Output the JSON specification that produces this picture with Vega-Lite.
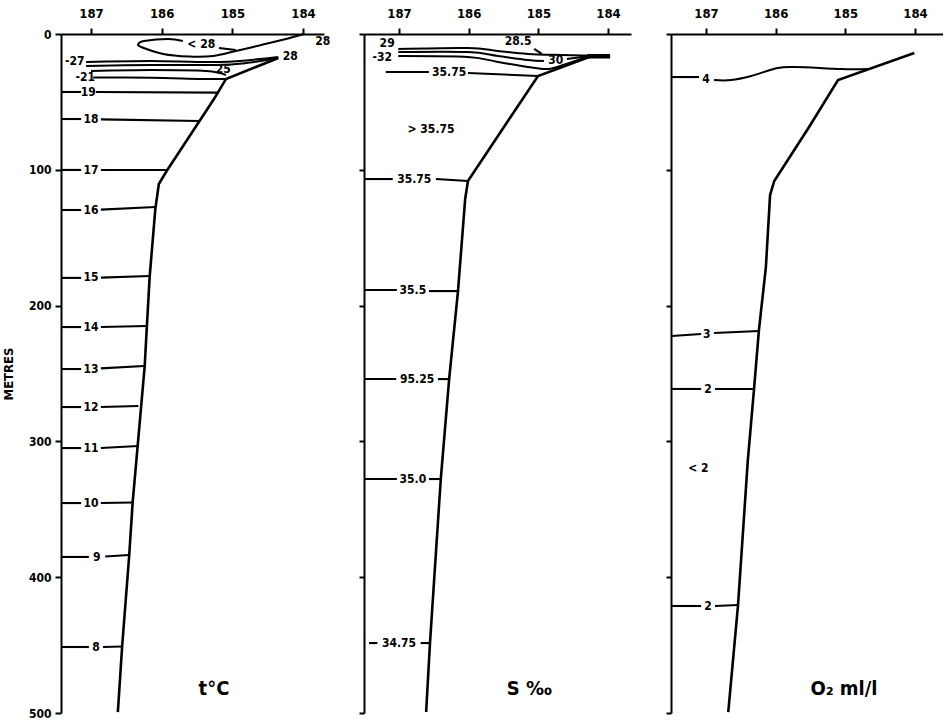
{
  "$schema": "https://vega.github.io/schema/vega-lite/v6.json",
  "background": "white",
  "padding": {"left": 2, "top": 7, "right": 0, "bottom": 0},
  "bounds": "flush",
  "spacing": 40,
  "datasets": {
    "lines": [
      {"p":1,"id":"s1","k":"slope","o":0,"lon":184.35,"d":17.7},
      {"p":1,"id":"s1","k":"slope","o":1,"lon":185.09,"d":33.1},
      {"p":1,"id":"s1","k":"slope","o":2,"lon":185.26,"d":47.9},
      {"p":1,"id":"s1","k":"slope","o":3,"lon":185.92,"d":100.1},
      {"p":1,"id":"s1","k":"slope","o":4,"lon":186.04,"d":110.5},
      {"p":1,"id":"s1","k":"slope","o":5,"lon":186.09,"d":128.9},
      {"p":1,"id":"s1","k":"slope","o":6,"lon":186.17,"d":178.9},
      {"p":1,"id":"s1","k":"slope","o":7,"lon":186.21,"d":215.8},
      {"p":1,"id":"s1","k":"slope","o":8,"lon":186.24,"d":244.5},
      {"p":1,"id":"s1","k":"slope","o":9,"lon":186.34,"d":303.4},
      {"p":1,"id":"s1","k":"slope","o":10,"lon":186.41,"d":344.6},
      {"p":1,"id":"s1","k":"slope","o":11,"lon":186.46,"d":384.4},
      {"p":1,"id":"s1","k":"slope","o":12,"lon":186.56,"d":451.4},
      {"p":1,"id":"s1","k":"slope","o":13,"lon":186.62,"d":499.3},

      {"p":1,"id":"t19L","k":"seg","o":0,"lon":187.42,"d":42.7},
      {"p":1,"id":"t19L","k":"seg","o":1,"lon":187.14,"d":42.7},
      {"p":1,"id":"t19R","k":"seg","o":0,"lon":186.93,"d":42.7},
      {"p":1,"id":"t19R","k":"seg","o":1,"lon":185.19,"d":43.2},
      {"p":1,"id":"t18L","k":"seg","o":0,"lon":187.42,"d":62.6},
      {"p":1,"id":"t18L","k":"seg","o":1,"lon":187.14,"d":62.6},
      {"p":1,"id":"t18R","k":"seg","o":0,"lon":186.86,"d":62.9},
      {"p":1,"id":"t18R","k":"seg","o":1,"lon":185.47,"d":64.1},
      {"p":1,"id":"t17L","k":"seg","o":0,"lon":187.42,"d":100.1},
      {"p":1,"id":"t17L","k":"seg","o":1,"lon":187.14,"d":100.1},
      {"p":1,"id":"t17R","k":"seg","o":0,"lon":186.86,"d":100.1},
      {"p":1,"id":"t17R","k":"seg","o":1,"lon":185.92,"d":100.1},
      {"p":1,"id":"t16L","k":"seg","o":0,"lon":187.42,"d":129.6},
      {"p":1,"id":"t16L","k":"seg","o":1,"lon":187.14,"d":129.6},
      {"p":1,"id":"t16R","k":"seg","o":0,"lon":186.86,"d":129.3},
      {"p":1,"id":"t16R","k":"seg","o":1,"lon":186.09,"d":127.4},
      {"p":1,"id":"t15L","k":"seg","o":0,"lon":187.42,"d":179.6},
      {"p":1,"id":"t15L","k":"seg","o":1,"lon":187.14,"d":179.6},
      {"p":1,"id":"t15R","k":"seg","o":0,"lon":186.86,"d":179.4},
      {"p":1,"id":"t15R","k":"seg","o":1,"lon":186.17,"d":178.2},
      {"p":1,"id":"t14L","k":"seg","o":0,"lon":187.42,"d":215.8},
      {"p":1,"id":"t14L","k":"seg","o":1,"lon":187.14,"d":215.8},
      {"p":1,"id":"t14R","k":"seg","o":0,"lon":186.86,"d":215.8},
      {"p":1,"id":"t14R","k":"seg","o":1,"lon":186.21,"d":215.0},
      {"p":1,"id":"t13L","k":"seg","o":0,"lon":187.42,"d":246.7},
      {"p":1,"id":"t13L","k":"seg","o":1,"lon":187.14,"d":246.7},
      {"p":1,"id":"t13R","k":"seg","o":0,"lon":186.86,"d":246.2},
      {"p":1,"id":"t13R","k":"seg","o":1,"lon":186.25,"d":244.5},
      {"p":1,"id":"t12L","k":"seg","o":0,"lon":187.42,"d":274.7},
      {"p":1,"id":"t12L","k":"seg","o":1,"lon":187.14,"d":274.7},
      {"p":1,"id":"t12R","k":"seg","o":0,"lon":186.86,"d":274.7},
      {"p":1,"id":"t12R","k":"seg","o":1,"lon":186.33,"d":273.9},
      {"p":1,"id":"t11L","k":"seg","o":0,"lon":187.42,"d":304.9},
      {"p":1,"id":"t11L","k":"seg","o":1,"lon":187.14,"d":304.9},
      {"p":1,"id":"t11R","k":"seg","o":0,"lon":186.86,"d":304.9},
      {"p":1,"id":"t11R","k":"seg","o":1,"lon":186.33,"d":303.4},
      {"p":1,"id":"t10L","k":"seg","o":0,"lon":187.42,"d":345.4},
      {"p":1,"id":"t10L","k":"seg","o":1,"lon":187.14,"d":345.4},
      {"p":1,"id":"t10R","k":"seg","o":0,"lon":186.86,"d":345.4},
      {"p":1,"id":"t10R","k":"seg","o":1,"lon":186.41,"d":345.0},
      {"p":1,"id":"t9L","k":"seg","o":0,"lon":187.42,"d":385.1},
      {"p":1,"id":"t9L","k":"seg","o":1,"lon":187.03,"d":385.1},
      {"p":1,"id":"t9R","k":"seg","o":0,"lon":186.80,"d":384.8},
      {"p":1,"id":"t9R","k":"seg","o":1,"lon":186.46,"d":383.7},
      {"p":1,"id":"t8L","k":"seg","o":0,"lon":187.42,"d":451.4},
      {"p":1,"id":"t8L","k":"seg","o":1,"lon":187.03,"d":451.4},
      {"p":1,"id":"t8R","k":"seg","o":0,"lon":186.83,"d":451.4},
      {"p":1,"id":"t8R","k":"seg","o":1,"lon":186.56,"d":451.0},

      {"p":1,"id":"A","k":"curve","o":0,"lon":187.07,"d":20.6},
      {"p":1,"id":"A","k":"curve","o":1,"lon":186.15,"d":19.9},
      {"p":1,"id":"A","k":"curve","o":2,"lon":185.16,"d":20.6},
      {"p":1,"id":"A","k":"curve","o":3,"lon":184.35,"d":16.9},
      {"p":1,"id":"B","k":"curve","o":0,"lon":187.07,"d":23.6},
      {"p":1,"id":"B","k":"curve","o":1,"lon":186.15,"d":22.8},
      {"p":1,"id":"B","k":"curve","o":2,"lon":185.23,"d":22.8},
      {"p":1,"id":"B","k":"curve","o":3,"lon":184.81,"d":21.4},
      {"p":1,"id":"B","k":"curve","o":4,"lon":184.35,"d":17.7},
      {"p":1,"id":"C","k":"curve","o":0,"lon":187.0,"d":27.2},
      {"p":1,"id":"C","k":"curve","o":1,"lon":186.15,"d":26.5},
      {"p":1,"id":"C","k":"curve","o":2,"lon":185.37,"d":27.2},
      {"p":1,"id":"C","k":"curve","o":3,"lon":185.09,"d":30.2},
      {"p":1,"id":"D","k":"curve","o":0,"lon":186.97,"d":32.0},
      {"p":1,"id":"D","k":"curve","o":1,"lon":186.15,"d":32.2},
      {"p":1,"id":"D","k":"curve","o":2,"lon":185.44,"d":33.1},
      {"p":1,"id":"D","k":"curve","o":3,"lon":185.09,"d":33.1},
      {"p":1,"id":"loop","k":"curve","o":0,"lon":183.99,"d":0},
      {"p":1,"id":"loop","k":"curve","o":1,"lon":184.24,"d":3.7},
      {"p":1,"id":"loop","k":"curve","o":2,"lon":184.59,"d":8.1},
      {"p":1,"id":"loop","k":"curve","o":3,"lon":184.95,"d":12.5},
      {"p":1,"id":"loop","k":"curve","o":4,"lon":185.27,"d":16.2},
      {"p":1,"id":"loop","k":"curve","o":5,"lon":185.61,"d":16.6},
      {"p":1,"id":"loop","k":"curve","o":6,"lon":185.98,"d":14.7},
      {"p":1,"id":"loop","k":"curve","o":7,"lon":186.29,"d":9.6},
      {"p":1,"id":"loop","k":"curve","o":8,"lon":186.33,"d":7.4},
      {"p":1,"id":"loop","k":"curve","o":9,"lon":186.25,"d":5.2},
      {"p":1,"id":"loop","k":"curve","o":10,"lon":185.91,"d":3.7},
      {"p":1,"id":"loop","k":"curve","o":11,"lon":185.70,"d":5.2},
      {"p":1,"id":"U","k":"seg","o":0,"lon":185.19,"d":10.3},
      {"p":1,"id":"U","k":"seg","o":1,"lon":184.95,"d":11.8},

      {"p":2,"id":"s2","k":"slope","o":0,"lon":184.27,"d":16.9},
      {"p":2,"id":"s2","k":"slope","o":1,"lon":185.005,"d":30.9},
      {"p":2,"id":"s2","k":"slope","o":2,"lon":186.01,"d":108.2},
      {"p":2,"id":"s2","k":"slope","o":3,"lon":186.05,"d":121.5},
      {"p":2,"id":"s2","k":"slope","o":4,"lon":186.153,"d":189.3},
      {"p":2,"id":"s2","k":"slope","o":5,"lon":186.28,"d":254.1},
      {"p":2,"id":"s2","k":"slope","o":6,"lon":186.40,"d":327.7},
      {"p":2,"id":"s2","k":"slope","o":7,"lon":186.555,"d":448.5},
      {"p":2,"id":"s2","k":"slope","o":8,"lon":186.61,"d":499.3},
      {"p":2,"id":"tip","k":"tip","o":0,"lon":184.30,"d":16.4},
      {"p":2,"id":"tip","k":"tip","o":1,"lon":183.97,"d":16.4},
      {"p":2,"id":"L1","k":"curve","o":0,"lon":187.01,"d":11.0},
      {"p":2,"id":"L1","k":"curve","o":1,"lon":186.01,"d":10.3},
      {"p":2,"id":"L1","k":"curve","o":2,"lon":185.58,"d":12.5},
      {"p":2,"id":"L1","k":"curve","o":3,"lon":185.15,"d":14.7},
      {"p":2,"id":"L1","k":"curve","o":4,"lon":184.67,"d":15.5},
      {"p":2,"id":"L1","k":"curve","o":5,"lon":183.97,"d":16.2},
      {"p":2,"id":"L2","k":"curve","o":0,"lon":187.01,"d":13.3},
      {"p":2,"id":"L2","k":"curve","o":1,"lon":186.01,"d":13.3},
      {"p":2,"id":"L2","k":"curve","o":2,"lon":185.58,"d":16.2},
      {"p":2,"id":"L2","k":"curve","o":3,"lon":185.15,"d":19.1},
      {"p":2,"id":"L2","k":"curve","o":4,"lon":184.92,"d":19.9},
      {"p":2,"id":"L2b","k":"seg","o":0,"lon":184.59,"d":18.4},
      {"p":2,"id":"L2b","k":"seg","o":1,"lon":184.27,"d":16.2},
      {"p":2,"id":"L3","k":"curve","o":0,"lon":187.01,"d":16.2},
      {"p":2,"id":"L3","k":"curve","o":1,"lon":186.01,"d":16.9},
      {"p":2,"id":"L3","k":"curve","o":2,"lon":185.58,"d":20.6},
      {"p":2,"id":"L3","k":"curve","o":3,"lon":185.15,"d":24.3},
      {"p":2,"id":"L3","k":"curve","o":4,"lon":184.86,"d":25.8},
      {"p":2,"id":"L3","k":"curve","o":5,"lon":184.60,"d":22.1},
      {"p":2,"id":"L3","k":"curve","o":6,"lon":184.27,"d":16.2},
      {"p":2,"id":"h285","k":"seg","o":0,"lon":185.06,"d":11.0},
      {"p":2,"id":"h285","k":"seg","o":1,"lon":184.95,"d":14.7},
      {"p":2,"id":"c1L","k":"seg","o":0,"lon":187.19,"d":28.0},
      {"p":2,"id":"c1L","k":"seg","o":1,"lon":186.57,"d":28.0},
      {"p":2,"id":"c1R","k":"seg","o":0,"lon":186.01,"d":28.7},
      {"p":2,"id":"c1R","k":"seg","o":1,"lon":185.005,"d":30.9},
      {"p":2,"id":"c2L","k":"seg","o":0,"lon":187.49,"d":106.8},
      {"p":2,"id":"c2L","k":"seg","o":1,"lon":187.09,"d":106.8},
      {"p":2,"id":"c2R","k":"seg","o":0,"lon":186.47,"d":106.8},
      {"p":2,"id":"c2R","k":"seg","o":1,"lon":186.01,"d":108.2},
      {"p":2,"id":"c3L","k":"seg","o":0,"lon":187.49,"d":188.5},
      {"p":2,"id":"c3L","k":"seg","o":1,"lon":187.03,"d":188.5},
      {"p":2,"id":"c3R","k":"seg","o":0,"lon":186.57,"d":189.3},
      {"p":2,"id":"c3R","k":"seg","o":1,"lon":186.153,"d":189.3},
      {"p":2,"id":"c4L","k":"seg","o":0,"lon":187.49,"d":254.1},
      {"p":2,"id":"c4L","k":"seg","o":1,"lon":187.04,"d":254.1},
      {"p":2,"id":"c4R","k":"seg","o":0,"lon":186.44,"d":254.1},
      {"p":2,"id":"c4R","k":"seg","o":1,"lon":186.28,"d":254.1},
      {"p":2,"id":"c5L","k":"seg","o":0,"lon":187.49,"d":327.7},
      {"p":2,"id":"c5L","k":"seg","o":1,"lon":187.03,"d":327.7},
      {"p":2,"id":"c5R","k":"seg","o":0,"lon":186.57,"d":327.7},
      {"p":2,"id":"c5R","k":"seg","o":1,"lon":186.40,"d":327.7},
      {"p":2,"id":"c6L","k":"seg","o":0,"lon":187.43,"d":448.5},
      {"p":2,"id":"c6L","k":"seg","o":1,"lon":187.31,"d":448.5},
      {"p":2,"id":"c6R","k":"seg","o":0,"lon":186.69,"d":448.5},
      {"p":2,"id":"c6R","k":"seg","o":1,"lon":186.555,"d":448.5},

      {"p":3,"id":"s3","k":"slope","o":0,"lon":184.01,"d":14.0},
      {"p":3,"id":"s3","k":"slope","o":1,"lon":185.105,"d":33.9},
      {"p":3,"id":"s3","k":"slope","o":2,"lon":185.52,"d":68.5},
      {"p":3,"id":"s3","k":"slope","o":3,"lon":186.02,"d":108.2},
      {"p":3,"id":"s3","k":"slope","o":4,"lon":186.08,"d":118.6},
      {"p":3,"id":"s3","k":"slope","o":5,"lon":186.14,"d":171.6},
      {"p":3,"id":"s3","k":"slope","o":6,"lon":186.24,"d":218.0},
      {"p":3,"id":"s3","k":"slope","o":7,"lon":186.31,"d":261.4},
      {"p":3,"id":"s3","k":"slope","o":8,"lon":186.40,"d":314.4},
      {"p":3,"id":"s3","k":"slope","o":9,"lon":186.54,"d":420.5},
      {"p":3,"id":"s3","k":"slope","o":10,"lon":186.68,"d":499.3},
      {"p":3,"id":"o4L","k":"seg","o":0,"lon":187.49,"d":31.7},
      {"p":3,"id":"o4L","k":"seg","o":1,"lon":187.10,"d":31.7},
      {"p":3,"id":"o4R","k":"curve","o":0,"lon":186.885,"d":33.9},
      {"p":3,"id":"o4R","k":"curve","o":1,"lon":186.64,"d":33.9},
      {"p":3,"id":"o4R","k":"curve","o":2,"lon":186.35,"d":30.9},
      {"p":3,"id":"o4R","k":"curve","o":3,"lon":185.97,"d":25.0},
      {"p":3,"id":"o4R","k":"curve","o":4,"lon":185.71,"d":24.3},
      {"p":3,"id":"o4R","k":"curve","o":5,"lon":185.06,"d":25.8},
      {"p":3,"id":"o4R","k":"curve","o":6,"lon":184.67,"d":25.8},
      {"p":3,"id":"o3L","k":"seg","o":0,"lon":187.49,"d":222.4},
      {"p":3,"id":"o3L","k":"seg","o":1,"lon":187.07,"d":220.9},
      {"p":3,"id":"o3R","k":"seg","o":0,"lon":186.885,"d":220.2},
      {"p":3,"id":"o3R","k":"seg","o":1,"lon":186.24,"d":218.7},
      {"p":3,"id":"o2L","k":"seg","o":0,"lon":187.49,"d":261.4},
      {"p":3,"id":"o2L","k":"seg","o":1,"lon":187.07,"d":261.4},
      {"p":3,"id":"o2R","k":"seg","o":0,"lon":186.87,"d":261.4},
      {"p":3,"id":"o2R","k":"seg","o":1,"lon":186.31,"d":261.4},
      {"p":3,"id":"o2bL","k":"seg","o":0,"lon":187.49,"d":421.2},
      {"p":3,"id":"o2bL","k":"seg","o":1,"lon":187.07,"d":421.2},
      {"p":3,"id":"o2bR","k":"seg","o":0,"lon":186.87,"d":421.2},
      {"p":3,"id":"o2bR","k":"seg","o":1,"lon":186.54,"d":420.5}
    ],
    "labels": [
      {"p":1,"k":"lab","t":"19","lon":187.04,"d":42.7},
      {"p":1,"k":"lab","t":"18","lon":187.0,"d":62.6},
      {"p":1,"k":"lab","t":"17","lon":187.0,"d":100.1},
      {"p":1,"k":"lab","t":"16","lon":187.0,"d":129.3},
      {"p":1,"k":"lab","t":"15","lon":187.0,"d":179.3},
      {"p":1,"k":"lab","t":"14","lon":187.0,"d":215.8},
      {"p":1,"k":"lab","t":"13","lon":187.0,"d":246.5},
      {"p":1,"k":"lab","t":"12","lon":187.0,"d":274.7},
      {"p":1,"k":"lab","t":"11","lon":187.0,"d":304.9},
      {"p":1,"k":"lab","t":"10","lon":187.0,"d":345.4},
      {"p":1,"k":"lab","t":"9","lon":186.92,"d":385.1},
      {"p":1,"k":"lab","t":"8","lon":186.93,"d":451.4},
      {"p":1,"k":"lab","t":"-27","lon":187.23,"d":19.6},
      {"p":1,"k":"lab","t":"-21","lon":187.08,"d":31.8},
      {"p":1,"k":"lab","t":"25","lon":185.13,"d":25.8},
      {"p":1,"k":"lab","t":"< 28","lon":185.44,"d":7.4},
      {"p":1,"k":"lab","t":"28","lon":183.72,"d":5.2},
      {"p":1,"k":"lab","t":"28","lon":184.18,"d":16.2},
      {"p":1,"k":"title","t":"t°C","lon":185.26,"d":482.3},

      {"p":2,"k":"lab","t":"29","lon":187.17,"d":6.6},
      {"p":2,"k":"lab","t":"-32","lon":187.24,"d":16.9},
      {"p":2,"k":"lab","t":"30","lon":184.75,"d":19.1},
      {"p":2,"k":"lab","t":"28.5","lon":185.29,"d":5.2},
      {"p":2,"k":"lab","t":"35.75","lon":186.28,"d":28.0},
      {"p":2,"k":"lab","t":"> 35.75","lon":186.54,"d":70.0},
      {"p":2,"k":"lab","t":"35.75","lon":186.78,"d":106.8},
      {"p":2,"k":"lab","t":"35.5","lon":186.80,"d":188.5},
      {"p":2,"k":"lab","t":"95.25","lon":186.74,"d":254.1},
      {"p":2,"k":"lab","t":"35.0","lon":186.80,"d":327.7},
      {"p":2,"k":"lab","t":"34.75","lon":187.0,"d":448.5},
      {"p":2,"k":"title","t":"S ‰","lon":185.13,"d":482.3},

      {"p":3,"k":"lab","t":"4","lon":187.0,"d":33.1},
      {"p":3,"k":"lab","t":"3","lon":186.99,"d":220.9},
      {"p":3,"k":"lab","t":"2","lon":186.97,"d":261.4},
      {"p":3,"k":"lab","t":"< 2","lon":187.11,"d":319.6},
      {"p":3,"k":"lab","t":"2","lon":186.97,"d":421.2},
      {"p":3,"k":"title","t":"O₂ ml/l","lon":185.02,"d":482.3}
    ]
  },
  "hconcat": [
    {
      "width": 263, "height": 679,
      "encoding": {
        "x": {"field": "lon", "type": "quantitative", "scale": {"domain": [183.703, 187.4245], "reverse": true, "nice": false, "zero": false}, "axis": {"orient": "top", "values": [187,186,185,184], "format": "d", "title": null}},
        "y": {"field": "d", "type": "quantitative", "scale": {"domain": [0, 500], "reverse": true, "nice": false, "zero": false}, "axis": {"values": [0,100,200,300,400,500], "title": "METRES", "titleFontSize": 13, "titleFontWeight": "bold", "titlePadding": 13, "labelFontSize": 12, "tickSize": 6, "labelPadding": 4}}
      },
      "layer": [
        {"data": {"name": "lines"}, "transform": [{"filter": "datum.p == 1 && datum.k == 'slope'"}], "mark": {"type": "line", "color": "black", "strokeWidth": 2.6}, "encoding": {"detail": {"field": "id"}, "order": {"field": "o"}}},
        {"data": {"name": "lines"}, "transform": [{"filter": "datum.p == 1 && datum.k == 'seg'"}], "mark": {"type": "line", "color": "black", "strokeWidth": 2.1}, "encoding": {"detail": {"field": "id"}, "order": {"field": "o"}}},
        {"data": {"name": "lines"}, "transform": [{"filter": "datum.p == 1 && datum.k == 'curve'"}], "mark": {"type": "line", "color": "black", "strokeWidth": 2.0, "interpolate": "cardinal"}, "encoding": {"detail": {"field": "id"}, "order": {"field": "o"}}},
        {"data": {"name": "labels"}, "transform": [{"filter": "datum.p == 1 && datum.k == 'lab'"}], "mark": {"type": "text", "color": "black", "fontSize": 12, "fontWeight": "bold", "font": "DejaVu Sans Condensed, DejaVu Sans"}, "encoding": {"text": {"field": "t"}}},
        {"data": {"name": "labels"}, "transform": [{"filter": "datum.p == 1 && datum.k == 'title'"}], "mark": {"type": "text", "color": "black", "fontSize": 20, "fontWeight": "bold", "font": "DejaVu Sans Condensed, DejaVu Sans"}, "encoding": {"text": {"field": "t"}}}
      ]
    },
    {
      "width": 267, "height": 679,
      "encoding": {
        "x": {"field": "lon", "type": "quantitative", "scale": {"domain": [183.67, 187.502], "reverse": true, "nice": false, "zero": false}, "axis": {"orient": "top", "values": [187,186,185,184], "format": "d", "title": null}},
        "y": {"field": "d", "type": "quantitative", "scale": {"domain": [0, 500], "reverse": true, "nice": false, "zero": false}, "axis": {"values": [0,100,200,300,400,500], "title": null, "labels": false, "tickSize": 5}}
      },
      "layer": [
        {"data": {"name": "lines"}, "transform": [{"filter": "datum.p == 2 && datum.k == 'slope'"}], "mark": {"type": "line", "color": "black", "strokeWidth": 2.6}, "encoding": {"detail": {"field": "id"}, "order": {"field": "o"}}},
        {"data": {"name": "lines"}, "transform": [{"filter": "datum.p == 2 && datum.k == 'seg'"}], "mark": {"type": "line", "color": "black", "strokeWidth": 2.1}, "encoding": {"detail": {"field": "id"}, "order": {"field": "o"}}},
        {"data": {"name": "lines"}, "transform": [{"filter": "datum.p == 2 && datum.k == 'curve'"}], "mark": {"type": "line", "color": "black", "strokeWidth": 2.0, "interpolate": "cardinal"}, "encoding": {"detail": {"field": "id"}, "order": {"field": "o"}}},
        {"data": {"name": "lines"}, "transform": [{"filter": "datum.p == 2 && datum.k == 'tip'"}], "mark": {"type": "line", "color": "black", "strokeWidth": 4.5}, "encoding": {"detail": {"field": "id"}, "order": {"field": "o"}}},
        {"data": {"name": "labels"}, "transform": [{"filter": "datum.p == 2 && datum.k == 'lab'"}], "mark": {"type": "text", "color": "black", "fontSize": 12, "fontWeight": "bold", "font": "DejaVu Sans Condensed, DejaVu Sans"}, "encoding": {"text": {"field": "t"}}},
        {"data": {"name": "labels"}, "transform": [{"filter": "datum.p == 2 && datum.k == 'title'"}], "mark": {"type": "text", "color": "black", "fontSize": 20, "fontWeight": "bold", "font": "DejaVu Sans Condensed, DejaVu Sans"}, "encoding": {"text": {"field": "t"}}}
      ]
    },
    {
      "width": 272, "height": 679,
      "encoding": {
        "x": {"field": "lon", "type": "quantitative", "scale": {"domain": [183.598, 187.502], "reverse": true, "nice": false, "zero": false}, "axis": {"orient": "top", "values": [187,186,185,184], "format": "d", "title": null}},
        "y": {"field": "d", "type": "quantitative", "scale": {"domain": [0, 500], "reverse": true, "nice": false, "zero": false}, "axis": {"values": [0,100,200,300,400,500], "title": null, "labels": false, "tickSize": 5}}
      },
      "layer": [
        {"data": {"name": "lines"}, "transform": [{"filter": "datum.p == 3 && datum.k == 'slope'"}], "mark": {"type": "line", "color": "black", "strokeWidth": 2.6}, "encoding": {"detail": {"field": "id"}, "order": {"field": "o"}}},
        {"data": {"name": "lines"}, "transform": [{"filter": "datum.p == 3 && datum.k == 'seg'"}], "mark": {"type": "line", "color": "black", "strokeWidth": 2.1}, "encoding": {"detail": {"field": "id"}, "order": {"field": "o"}}},
        {"data": {"name": "lines"}, "transform": [{"filter": "datum.p == 3 && datum.k == 'curve'"}], "mark": {"type": "line", "color": "black", "strokeWidth": 2.0, "interpolate": "cardinal"}, "encoding": {"detail": {"field": "id"}, "order": {"field": "o"}}},
        {"data": {"name": "labels"}, "transform": [{"filter": "datum.p == 3 && datum.k == 'lab'"}], "mark": {"type": "text", "color": "black", "fontSize": 12, "fontWeight": "bold", "font": "DejaVu Sans Condensed, DejaVu Sans"}, "encoding": {"text": {"field": "t"}}},
        {"data": {"name": "labels"}, "transform": [{"filter": "datum.p == 3 && datum.k == 'title'"}], "mark": {"type": "text", "color": "black", "fontSize": 20, "fontWeight": "bold", "font": "DejaVu Sans Condensed, DejaVu Sans"}, "encoding": {"text": {"field": "t"}}}
      ]
    }
  ],
  "config": {
    "view": {"stroke": null},
    "font": "DejaVu Sans Condensed, DejaVu Sans",
    "axis": {"domainColor": "black", "domainWidth": 2, "tickColor": "black", "tickWidth": 2, "labelColor": "black", "labelFont": "DejaVu Sans Condensed, DejaVu Sans", "labelFontWeight": "bold", "labelFontSize": 13, "titleColor": "black", "titleFont": "DejaVu Sans Condensed, DejaVu Sans", "grid": false, "tickSize": 6, "labelPadding": 8}
  }
}
